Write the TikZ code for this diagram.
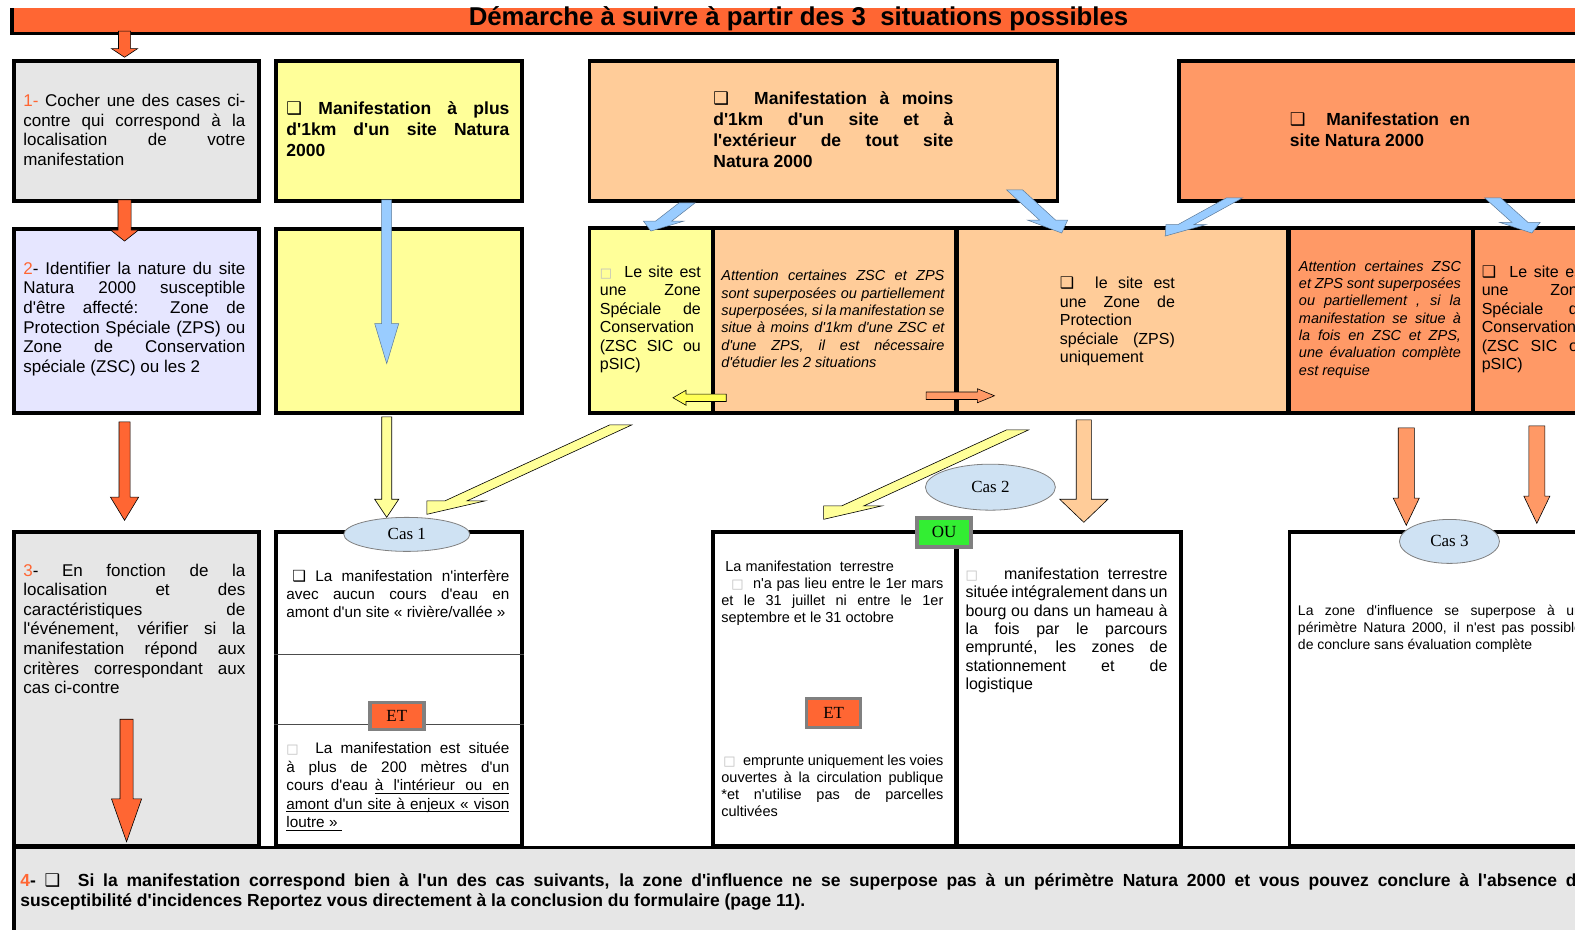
\documentclass[tikz,border=0pt]{standalone}
\usepackage{fontspec}
\setmainfont{Liberation Sans}[Ligatures=TeXOff]
\newfontfamily\casfont{Liberation Serif}
\newfontfamily\dingfont{DejaVu Sans}
\usepackage{xcolor}
\usetikzlibrary{shapes.geometric,calc}

\definecolor{banner}{HTML}{FF6633}
\definecolor{greybox}{HTML}{E6E6E6}
\definecolor{lavender}{HTML}{E6E6FF}
\definecolor{paleyellow}{HTML}{FFFF99}
\definecolor{peach}{HTML}{FFCC99}
\definecolor{salmon}{HTML}{FF9966}
\definecolor{skyblue}{HTML}{99CCFF}
\definecolor{casblue}{HTML}{CFE2F3}
\definecolor{ougreen}{HTML}{33EE33}
\definecolor{brightyellow}{HTML}{FFFF55}

\newcommand\chk{{\dingfont\bfseries ❑}}
\newcommand\nochk{{\fontsize{13}{13}\selectfont\color{black!25}\dingfont □}}
\newcommand\stepnum[1]{\textcolor{banner}{#1}}
% underlined word and underlined stretchable space
\newcommand\ulw[1]{\leavevmode\setbox0\hbox{#1}\rlap{\rule[-2.8pt]{\wd0}{0.8pt}}\box0}
\newcommand\ulsp{\leaders\hrule height -2pt depth 2.8pt\hskip 0.278em plus 0.3em minus 0.09em\relax}

% block arrow: [style] tail, tip, shaft offset, head offset, neck fraction
\newcommand\fatarrow[6][]{%
  \coordinate (neck) at ($(#2)!#6!(#3)$);
  \draw[arrowline,#1] ($(#2)+(#4)$) -- ($(neck)+(#4)$) -- ($(neck)+(#5)$) -- (#3)
    -- ($(neck)-(#5)$) -- ($(neck)-(#4)$) -- ($(#2)-(#4)$) -- cycle;}

\begin{document}
\begin{tikzpicture}[x=1.00446pt,y=-1.00446pt,
	box/.style={draw, line width=3.5pt, anchor=north west, inner sep=0pt},
	txt/.style={anchor=west, inner sep=0pt, align=justify},
	headfont/.style={font=\fontsize{17.5}{21}\selectfont\bfseries},
	bodyfont/.style={font=\fontsize{17}{19.6}\selectfont},
	cellfont/.style={font=\fontsize{16}{18.4}\selectfont},
	notefont/.style={font=\fontsize{14.5}{17.3}\selectfont\itshape},
	smallfont/.style={font=\fontsize{14.5}{17}\selectfont},
	arrowline/.style={draw=black, line width=0.6pt},
	bluearrow/.style={fill=skyblue, draw=skyblue!60!black, line width=0.5pt},
	caselabel/.style={ellipse, draw=gray, line width=0.8pt, fill=casblue, inner sep=0pt, font=\casfont\fontsize{17}{17}\selectfont},
	badge/.style={draw=gray, line width=3.5pt, minimum width=54, minimum height=27, inner sep=0pt, font=\casfont\fontsize{17}{17}\selectfont}]
\useasboundingbox (0,0) rectangle (1568,925);
\clip (0,0) rectangle (1568,925);

% title banner
\node (banner) [fill=banner, anchor=north west, inner sep=0pt, minimum width=1600, minimum height=25] at (12,8) {};
\draw[line width=3.5pt] (banner.north west) -- (banner.south west) -- (banner.south east);
\node (title) [inner sep=0pt, font=\fontsize{25.8}{26}\selectfont\bfseries] at (795,19) {Démarche à suivre à partir des 3\ \ situations possibles};

% first row: the three situations
\node (step1) [box, fill=greybox, minimum width=245, minimum height=140] at (12,59) {};
\node (plus) [box, fill=paleyellow, minimum width=246, minimum height=140] at (273,59) {};
\node (moins) [box, fill=peach, minimum width=468, minimum height=140] at (585,59) {};
\node (ensite) [box, fill=salmon, minimum width=450, minimum height=140] at (1172,59) {};

% second row: nature of the site
\node (step2) [box, fill=lavender, minimum width=245, minimum height=184] at (12,226) {};
\node (plusbis) [box, fill=paleyellow, minimum width=246, minimum height=184] at (273,226) {};
\node (zsc) [box, fill=paleyellow, minimum width=123, minimum height=185] at (585,225) {};
\node (noteA) [box, fill=peach, minimum width=243, minimum height=185] at (708,225) {};
\node (zps) [box, fill=peach, minimum width=331, minimum height=185] at (951,225) {};
\node (noteB) [box, fill=salmon, minimum width=183, minimum height=185] at (1282,225) {};
\node (zscbis) [box, fill=salmon, minimum width=150, minimum height=185] at (1465,225) {};

% third row: the cases
\node (step3) [box, fill=greybox, minimum width=245, minimum height=314] at (12,528) {};
\node (cas1) [box, fill=white, minimum width=246, minimum height=314] at (273,528) {};
\node (cas2a) [box, fill=white, minimum width=243, minimum height=314] at (708,528) {};
\node (cas2b) [box, fill=white, minimum width=224, minimum height=314] at (951,528) {};
\node (cas3) [box, fill=white, minimum width=330, minimum height=314] at (1282,528) {};
\draw[line width=0.8pt, black!70] (cas1.west |- 0,651) -- (cas1.east |- 0,651);
\draw[line width=0.8pt, black!70] (cas1.west |- 0,721) -- (cas1.east |- 0,721);

% fourth row
\node (step4) [box, fill=greybox, minimum width=1620, minimum height=100] at (12,842) {};

% arrows
\coordinate (t0) at (124,31);   \coordinate (h0) at (124,57);
\coordinate (t1) at (124,199);  \coordinate (h1) at (124,240);
\coordinate (t2) at (385,199);  \coordinate (h2) at (385,362);
\coordinate (t3) at (124,420);  \coordinate (h3) at (124,518);
\coordinate (t4) at (126,716);  \coordinate (h4) at (126,838);
\coordinate (t5) at (385,415);  \coordinate (h5) at (385,515);
\coordinate (t6) at (618,423);  \coordinate (h6) at (425,512);
\coordinate (t7) at (1013,428); \coordinate (h7) at (820,517);
\coordinate (t8) at (1079,418); \coordinate (h8) at (1079,520);
\coordinate (t9) at (1400,426); \coordinate (h9) at (1400,523);
\coordinate (t10) at (1530,424); \coordinate (h10) at (1530,521);
\coordinate (b1) at (684,202);  \coordinate (e1) at (648,230);
\coordinate (b2) at (1010,189); \coordinate (e2) at (1057,232);
\coordinate (b3) at (1229,197); \coordinate (e3) at (1160,235);
\coordinate (b4) at (1486,197); \coordinate (e4) at (1525,232);
\coordinate (l1) at (723,396);  \coordinate (l2) at (670,396);
\coordinate (r1) at (922,394);  \coordinate (r2) at (990,394);

\fatarrow[fill=banner]{t0}{h0}{6,0}{13,0}{0.67}
\fatarrow[fill=banner]{t1}{h1}{6.5,0}{14,0}{0.73}
\fatarrow[bluearrow]{t2}{h2}{5,0}{12,0}{0.755}
\fatarrow[fill=banner]{t3}{h3}{5.5,0}{14,0}{0.765}
\fatarrow[fill=banner]{t4}{h4}{6.5,0}{15,0}{0.65}
\fatarrow[fill=paleyellow]{t5}{h5}{5,0}{12,0}{0.82}
\fatarrow[fill=paleyellow]{t6}{h6}{11,0}{29,0}{0.85}
\fatarrow[fill=paleyellow]{t7}{h7}{11,0}{29,0}{0.85}
\fatarrow[fill=peach]{t8}{h8}{7.5,0}{24,0}{0.775}
\fatarrow[fill=salmon]{t9}{h9}{8,0}{13,0}{0.72}
\fatarrow[fill=salmon]{t10}{h10}{8,0}{13,0}{0.72}
\fatarrow[bluearrow]{b1}{e1}{8,0}{20,0}{0.65}
\fatarrow[bluearrow]{b2}{e2}{8,0}{20,0}{0.7}
\fatarrow[bluearrow]{b3}{e3}{8,0}{20,0}{0.7}
\fatarrow[bluearrow]{b4}{e4}{8,0}{20,0}{0.7}
\fatarrow[fill=brightyellow]{l1}{l2}{0,3.7}{0,7.5}{0.755}
\fatarrow[fill=salmon]{r1}{r2}{0,3.7}{0,7}{0.75}

% case labels and badges
\node (lab1) [caselabel, minimum width=126, minimum height=34] at (405,532) {Cas 1};
\node (lab2) [caselabel, minimum width=130, minimum height=46] at (986,485) {Cas 2};
\node (lab3) [caselabel, minimum width=100, minimum height=44] at (1443,539) {Cas 3};
\node (ou) [badge, fill=ougreen, minimum height=29] at (940,530) {OU};
\node (et1) [badge, fill=banner] at (395,713) {ET};
\node (et2) [badge, fill=banner, minimum height=29] at (830,710) {ET};

% texts of the first row
\node (txt1) [txt, bodyfont, text width=222] at (23,129.5) {\stepnum{1-} Cocher une des cases ci-\linebreak contre qui correspond à la\linebreak localisation de votre\linebreak manifestation};
\node (txtplus) [txt, headfont, text width=223] at (285,129) {\chk\ Manifestation à plus\linebreak d'1km d'un site Natura\linebreak 2000};
\node (txtmoins) [txt, headfont, text width=240] at (710,129.5) {\chk\ \ Manifestation à moins\linebreak d'1km d'un site et à\linebreak l'extérieur de tout site\linebreak Natura 2000};
\node (txtensite) [txt, headfont, text width=180] at (1284,129) {\chk\ \ Manifestation en\linebreak site Natura 2000};

% texts of the second row
\node (txt2) [txt, bodyfont, text width=222] at (23,317.5) {\stepnum{2}- Identifier la nature du site\linebreak Natura 2000 susceptible\linebreak d'être affecté: Zone de\linebreak Protection Spéciale (ZPS) ou\linebreak Zone de Conservation\linebreak spéciale (ZSC) ou les 2};
\node (txtzsc) [txt, cellfont, text width=101] at (597,318) {\nochk\ \ Le site est\linebreak une Zone\linebreak Spéciale de\linebreak Conservation\linebreak (ZSC SIC ou\linebreak pSIC)};
\node (txtnoteA) [txt, notefont, text width=223] at (718,317.5) {Attention certaines ZSC et ZPS\linebreak sont superposées ou partiellement\linebreak superposées, si la manifestation se\linebreak situe à moins d'1km d'une ZSC et\linebreak d'une ZPS, il est nécessaire\linebreak d'étudier les 2 situations};
\node (txtzps) [txt, cellfont, text width=115] at (1055,320) {\chk\ \ le site est\linebreak une Zone de\linebreak Protection\\ spéciale (ZPS)\linebreak uniquement};
\node (txtnoteB) [txt, notefont, text width=162] at (1293,318) {Attention certaines ZSC\linebreak et ZPS sont superposées\linebreak ou partiellement , si la\linebreak manifestation se situe à\linebreak la fois en ZSC et ZPS,\linebreak une évaluation complète\linebreak est requise};
\node (txtzscbis) [txt, cellfont, text width=105] at (1475,318) {\chk\ \ Le site est\linebreak une Zone\linebreak Spéciale de\linebreak Conservation\linebreak (ZSC SIC ou\linebreak pSIC)};

% texts of the third row
\node (txt3) [txt, bodyfont, text width=222] at (23,626) {\stepnum{3}- En fonction de la\linebreak localisation et des\linebreak caractéristiques de\linebreak l'événement, vérifier si la\linebreak manifestation répond aux\linebreak critères correspondant aux\linebreak cas ci-contre};
\node (txtcas1a) [txt, font=\fontsize{15.3}{18}\selectfont, text width=223] at (285,591) {\hspace*{6pt}\chk\ La manifestation n'interfère\linebreak avec aucun cours d'eau en\linebreak amont d'un site «~rivière/vallée~»};
\node (txtcas1b) [txt, font=\fontsize{15.3}{18.5}\selectfont, text width=223] at (285,783) {\nochk\ \ La manifestation est située\linebreak à plus de 200 mètres d'un\linebreak cours d'eau \ulw{à}\ulsp\ulw{l'intérieur}\ulsp\ulw{ou}\ulsp\ulw{en}\linebreak \ulw{amont}\ulsp\ulw{d'un}\ulsp\ulw{site}\ulsp\ulw{à}\ulsp\ulw{enjeux}\ulsp\ulw{«}\ulsp\ulw{vison}\linebreak \ulw{loutre}\ulsp\ulw{»\ }};
\node (txtcas2a) [txt, smallfont, text width=222] at (718,590.5) {\hspace*{4pt}La manifestation\ \ terrestre\\\hspace*{10pt}\nochk\ \ n'a pas lieu entre le 1er mars\linebreak et le 31 juillet ni entre le 1er\linebreak septembre et le 31 octobre};
\node (txtcas2b) [txt, smallfont, text width=222] at (718,782.5) {\hspace*{2pt}\nochk\ \ emprunte uniquement les voies\linebreak ouvertes à la circulation publique\linebreak *et n'utilise pas de parcelles\linebreak cultivées};
\node (txtcas2c) [txt, cellfont, text width=202] at (961,627.5) {\nochk\ \ \ manifestation terrestre\linebreak située intégralement dans un\linebreak bourg ou dans un hameau à\linebreak la fois par le parcours\linebreak emprunté, les zones de\linebreak stationnement et de\linebreak logistique};
\node (txtcas3) [txt, font=\fontsize{14}{17}\selectfont, text width=284] at (1292,626) {La zone d'influence se superpose à un\linebreak périmètre Natura 2000, il n'est pas possible\linebreak de conclure sans évaluation complète};

% text of the fourth row
\node (txt4) [txt, font=\fontsize{17.5}{20}\selectfont\bfseries, text width=1566] at (20,888) {\stepnum{4}- \chk\ \ Si la manifestation correspond bien à l'un des cas suivants, la zone d'influence ne se superpose pas à un périmètre Natura 2000 et vous pouvez conclure à l'absence de\linebreak susceptibilité d'incidences Reportez vous directement à la conclusion du formulaire (page 11).};
\end{tikzpicture}
\end{document}
